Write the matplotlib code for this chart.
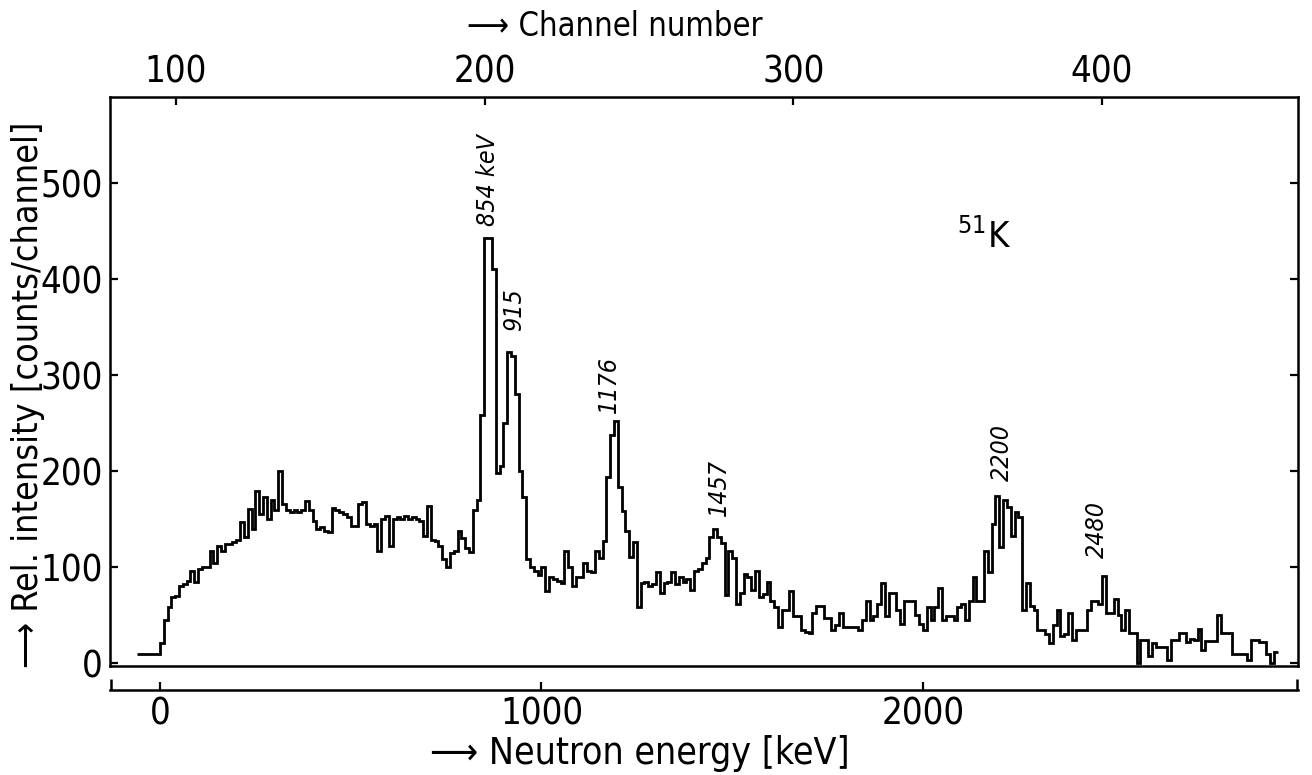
import numpy as np
import matplotlib
matplotlib.use('Agg')
import matplotlib.pyplot as plt
from matplotlib import font_manager as fm

# pick a condensed face if one is installed
_cond = [f for f in fm.fontManager.ttflist
         if 'condensed' in str(f.stretch).lower() or 'Narrow' in f.name or 'Condensed' in f.name]
if _cond:
    FAM = [_cond[0].name, 'DejaVu Sans']
    STRETCH = 'condensed' if 'condensed' in str(_cond[0].stretch).lower() else 'normal'
    K = 1.12
else:
    FAM = ['DejaVu Sans']
    STRETCH = 'normal'
    K = 1.0
plt.rcParams['font.family'] = FAM
plt.rcParams['font.stretch'] = STRETCH

# ---------------- data ----------------
bin_start_keV = -60
bin_width_keV = 10

counts_low = [10, 10, 10, 10, 10, 10,
              21, 45, 59, 69, 70, 80, 82, 86, 96, 85,
              98, 100, 100, 117, 104, 122, 117, 124, 124, 126,
              128, 147, 131, 161, 140, 179, 155, 173, 150, 170,
              160, 200, 166, 160, 158, 160, 157, 160, 169, 160,
              148, 140, 142, 138, 137]
counts_plateau = [162, 160, 157, 155, 152, 143, 143, 166, 168, 145,
                  143, 145, 117, 150, 153, 122, 150, 152, 150, 153,
                  150, 152, 150, 148, 133, 164, 128, 127, 122, 108,
                  100, 115, 117, 138, 130, 120, 116, 160, 170]
counts_doublet = [259, 443, 443, 411, 198, 205, 250, 324, 320, 280,
                  200, 173, 109, 100, 96, 92]
counts_mid = [100, 75, 90, 88, 86, 84, 117, 100, 80, 90,
              90, 104, 96, 95, 117, 110, 127, 194, 238, 252,
              184, 159, 138, 111, 126, 59, 83, 85, 80, 82,
              95, 73, 83, 85, 95, 82, 90, 85, 88, 76,
              96, 98, 104, 110, 131, 140, 131, 125, 71, 117]
counts_valley = [110, 62, 73, 93, 90, 76, 96, 69, 72, 85,
                 65, 59, 38, 55, 55, 75, 49, 49, 34, 32,
                 31, 52, 60, 60, 47, 47, 34, 40, 52, 38,
                 38, 38, 38, 34, 45, 65, 45, 49, 62, 83,
                 49, 73, 73, 55, 41, 65, 65, 65, 50, 41]
counts_high = [34, 59, 45, 59, 78, 45, 49, 49, 45, 58,
               62, 45, 65, 90, 65, 65, 117, 95, 145, 174,
               121, 170, 163, 132, 157, 152, 55, 83, 60, 55,
               34, 34, 30, 21, 40, 55, 28, 30, 52, 24,
               34, 34, 34, 55, 65, 65, 62, 91, 52, 52]
counts_tail = [67, 50, 35, 55, 31, 31, 0, 24, 24, 7,
               21, 17, 17, 17, 3, 24, 24, 31, 31, 22,
               25, 24, 36, 14, 23, 23, 23, 50, 31, 31,
               31, 10, 10, 10, 10, 3, 24, 24, 22, 22,
               10, 0, 12]

peak_labels = ['854 keV', '915', '1176', '1457', '2200', '2480']
peak_label_x = [861, 929, 1177, 1464, 2206, 2455]
peak_label_y = [503, 368, 290, 183, 220, 139]

energy_ticks = [0, 1000, 2000]
channel_ticks = [100, 200, 300, 400]
count_ticks = [0, 100, 200, 300, 400, 500]

counts = np.array(counts_low + counts_plateau + counts_doublet + counts_mid
                  + counts_valley + counts_high + counts_tail, dtype=float)
edges = bin_start_keV + bin_width_keV * np.arange(len(counts) + 1)

# ---------------- figure ----------------
fig = plt.figure(figsize=(13.12, 7.75), dpi=100)
L, R = 110 / 1312, 1298 / 1312
B, T = (775 - 666) / 775, (775 - 97) / 775
ax = fig.add_axes([L, B, R - L, T - B])

xlim = (-131, 2983)
ax.set_xlim(*xlim)
ax.set_ylim(-3, 590)

ax.stairs(counts, edges, color='black', linewidth=2.0, baseline=None)

for s in ax.spines.values():
    s.set_linewidth(1.8)

TICK_FS = 23.5 * K
ax.set_xticks([])
ax.set_yticks(count_ticks)
ax.tick_params(axis='y', which='both', direction='in', length=6, width=1.6,
               left=True, right=True, labelleft=True, labelright=False,
               labelsize=TICK_FS, pad=5)

# peak labels
for lab, px, py in zip(peak_labels, peak_label_x, peak_label_y):
    ax.text(px, py, lab, rotation=90, ha='center', va='center',
            fontsize=16 * K, style='italic')

ax.text(2160, 444, r'$^{51}$K', ha='center', va='center', fontsize=26)

# top channel axis
axt = ax.twiny()
axt.set_xlim(78.6, 463.5)
axt.set_xticks(channel_ticks)
axt.tick_params(axis='x', direction='in', length=6, width=1.6, labelsize=TICK_FS,
                top=True, bottom=False, labeltop=True, labelbottom=False, pad=5)
for s in axt.spines.values():
    s.set_visible(False)

# bottom energy axis (separate bracket line)
yb = (775 - 690) / 775
axb = fig.add_axes([L, yb, R - L, 0.02])
axb.set_xlim(*xlim)
axb.patch.set_alpha(0)
for k in ['top', 'left', 'right']:
    axb.spines[k].set_visible(False)
axb.spines['bottom'].set_linewidth(1.8)
axb.set_yticks([])
axb.set_xticks(energy_ticks)
axb.set_xticks([xlim[0] + 2, xlim[1] - 2], minor=True)
axb.tick_params(axis='x', which='major', direction='in', length=6, width=1.6,
                labelsize=TICK_FS, pad=4)
axb.tick_params(axis='x', which='minor', direction='in', length=8, width=1.8)

# axis titles
fig.text(640 / 1312, 1 - 754 / 775, '\u27f6 Neutron energy [keV]',
         ha='center', va='center', fontsize=24 * K)
fig.text(615 / 1312, 1 - 26 / 775, '\u27f6 Channel number',
         ha='center', va='center', fontsize=21 * K)
fig.text(28 / 1312, 1 - 395 / 775, '\u27f6 Rel. intensity [counts/channel]',
         ha='center', va='center', rotation=90, fontsize=23 * K)

fig.savefig('out.png', dpi=100)
